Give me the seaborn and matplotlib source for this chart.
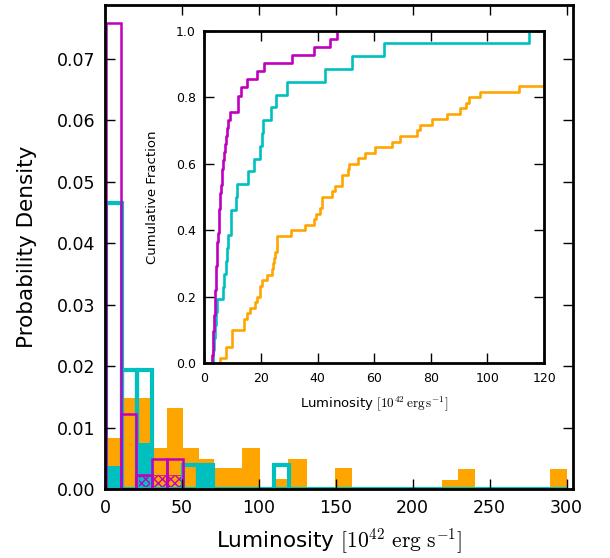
import numpy as np
import pandas as pd
import matplotlib
matplotlib.use('Agg')
import matplotlib.pyplot as plt
import seaborn as sns

# histogram bins (edges) and probability densities
orange_edges = [1, 10.5, 20.5, 30.4, 40.5, 51, 61, 71, 89.2, 100.6, 110, 119, 131,
                149.4, 160.6, 219.1, 229.2, 240.3, 289, 300.3]
orange_dens = [0.0083, 0.0149, 0.0149, 0.0067, 0.0132, 0.0067, 0.0050, 0.0034, 0.0067,
               0.0, 0.0017, 0.0050, 0.0, 0.0034, 0.0, 0.0016, 0.0033, 0.0, 0.0033]

cyan_fill_edges = [1, 10.9, 20.8, 30.7, 60.4, 70.3]
cyan_fill_dens = [0.0038, 0.0, 0.0076, 0.0, 0.0040]

cyan_edges = [1, 10.9, 20.8, 30.7, 40.6, 50.5, 60.4, 70.3, 80.2, 90.1, 100, 109.9, 119.8, 300]
cyan_dens = [0.0466, 0.0194, 0.0194, 0.0, 0.0, 0.0040, 0.0040, 0.0, 0.0, 0.0, 0.0,
             0.0040, 0.0]

magenta_edges = [0.6, 10.6, 20.5, 30.4, 40.5, 50.7]
magenta_dens = [0.0757, 0.0123, 0.0024, 0.0049, 0.0049]

hatch_edges = [20.5, 30.4, 40.5, 50.7]
hatch_dens = [0.0024, 0.0024, 0.0024]

# luminosities behind the cumulative curves (10^42 erg/s)
magenta_lum = [2.7, 2.9, 3.0, 3.2, 3.3, 3.5, 3.6, 3.8, 3.9, 4.0, 4.1, 4.2, 4.3, 4.4,
               4.6, 4.8, 5.0, 5.2, 5.3, 5.5, 5.7, 5.9, 6.1, 6.2, 6.5, 6.8, 7.3, 7.6,
               7.9, 8.5, 9.2, 11.8, 12.0, 13.0, 15.0, 18.5, 21.1, 31.1, 38.9, 44.4, 46.8]
cyan_lum = [3.2, 3.5, 3.8, 4.1, 4.4, 6.7, 7.0, 7.5, 7.9, 8.5, 9.4, 9.4, 11.1, 11.4,
            15.3, 17.7, 19.7, 20.3, 20.8, 23.6, 25.3, 29.3, 42.6, 52.1, 63.5, 114.7]
orange_lum = [5.5, 7.5, 7.6, 9.6, 9.8, 9.9, 14.0, 14.1, 15.0, 16.1, 17.9, 18.5, 19.6,
              19.7, 20.3, 22.0, 23.8, 24.1, 24.6, 24.8, 25.5, 25.6, 25.7, 30.7, 35.7,
              38.6, 39.5, 41.0, 41.4, 41.5, 45.0, 46.2, 48.5, 48.6, 50.9, 51.0, 54.4,
              56.8, 60.3, 66.2, 69.1, 75.0, 76.2, 80.3, 85.6, 90.3, 92.4, 93.3, 97.2,
              111.0, 122, 126, 128, 152, 157, 224, 232, 236, 292, 296]

ORANGE = 'orange'
CYAN = (0, 0.75, 0.75)
MAGENTA = (0.75, 0, 0.75)

plt.rcParams['mathtext.fontset'] = 'cm'
plt.rcParams['axes.linewidth'] = 2
plt.rcParams['xtick.direction'] = 'in'
plt.rcParams['ytick.direction'] = 'in'
plt.rcParams['xtick.top'] = True
plt.rcParams['ytick.right'] = True
plt.rcParams['xtick.major.size'] = 7
plt.rcParams['ytick.major.size'] = 7
plt.rcParams['hatch.linewidth'] = 1.0


def draw_hist(ax, edges, dens, **kw):
    mids = [(a + b) / 2 for a, b in zip(edges[:-1], edges[1:])]
    df = pd.DataFrame({'lum': mids, 'dens': dens})
    sns.histplot(data=df, x='lum', weights='dens', bins=list(edges), stat='count',
                 element='bars', ax=ax, **kw)


fig = plt.figure(figsize=(6.1, 5.58), dpi=100)
ax = fig.add_axes([0.172, 0.123, 0.767, 0.868])

draw_hist(ax, orange_edges, orange_dens, color=ORANGE, fill=True, alpha=1, linewidth=0)
draw_hist(ax, cyan_fill_edges, cyan_fill_dens, color=CYAN, fill=True, alpha=1, linewidth=0)
draw_hist(ax, hatch_edges, hatch_dens, color=MAGENTA, fill=False, linewidth=0.5, hatch='xxxx')
draw_hist(ax, cyan_edges, cyan_dens, color=CYAN, fill=False, linewidth=3)
draw_hist(ax, magenta_edges, magenta_dens, color=MAGENTA, fill=False, linewidth=1.8)

ax.set_xlim(0, 304)
ax.set_ylim(0, 0.0787)
ax.set_xticks(np.arange(0, 301, 50))
ax.set_yticks(np.arange(0, 0.071, 0.01))
ax.tick_params(labelsize=12.5, width=1, pad=7)
ax.set_xlabel(r'Luminosity $[10^{42}\ \mathrm{erg\ s^{-1}}]$', fontsize=15.5, labelpad=7)
ax.set_ylabel('Probability Density', fontsize=15.5, labelpad=14)

ins = fig.add_axes([0.335, 0.349, 0.557, 0.596])
sns.ecdfplot(x=orange_lum, color=ORANGE, linewidth=1.9, ax=ins)
sns.ecdfplot(x=cyan_lum, color=CYAN, linewidth=1.9, ax=ins)
sns.ecdfplot(x=magenta_lum, color=MAGENTA, linewidth=1.9, ax=ins)
ins.set_xlim(0, 120)
ins.set_ylim(0, 1)
ins.set_xticks(np.arange(0, 121, 20))
ins.set_yticks(np.arange(0, 1.01, 0.2))
ins.tick_params(labelsize=9, width=1, length=7, pad=6)
ins.set_xlabel(r'Luminosity $[10^{42}\,\mathrm{erg\,s^{-1}}]$', fontsize=9.5, labelpad=7)
ins.set_ylabel('Cumulative Fraction', fontsize=9.5, labelpad=12)

fig.savefig('out.png', dpi=100)
